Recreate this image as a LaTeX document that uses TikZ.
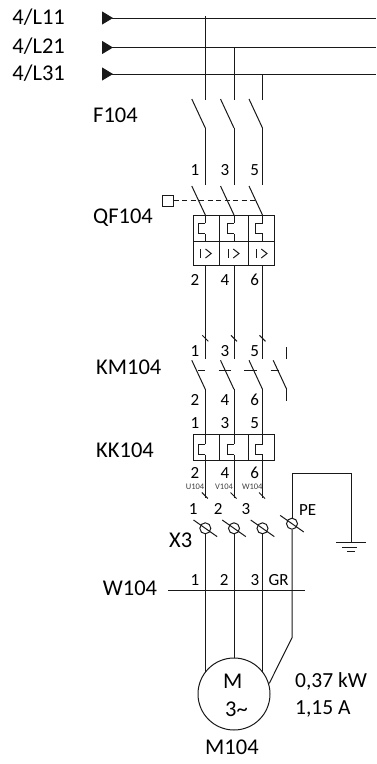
\documentclass[tikz,border=0pt]{standalone}
\usepackage{fontspec}
\setmainfont{Carlito}
\usetikzlibrary{arrows.meta}
\tikzset{
     wire/.style = { line width=1pt, color=black!90 },
      bus/.style = { wire, {Triangle[reversed,length=11pt,width=13pt]}-, >=Triangle },
    title/.style = { inner sep=0pt, anchor=west, font=\fontsize{22.5}{22.5}\selectfont },
     data/.style = { inner sep=0pt, anchor=west, font=\fontsize{21.5}{21.5}\selectfont },
      num/.style = { inner sep=0pt, font=\fontsize{17}{17}\selectfont },
     tiny/.style = { inner sep=0pt, font=\fontsize{8.5}{8.5}\selectfont, color=black!75 },
     term/.style = { wire, draw, circle, minimum size=11pt, inner sep=0pt },
    motor/.style = { wire, draw, circle, minimum size=72pt, inner sep=0pt },
}
\tikzset{
  blade/.pic={
    \draw [wire] (-13.5,-29) -- (0,0);
  },
  thermal/.pic={
    \draw [wire] (0,0) -- (-7,0) -- (-7,10.5) -- (0,10.5);
  },
  slash/.pic={
    \draw [wire] (-11.8,-8.3) -- (11.8,8.3);
  },
  tick/.pic={
    \draw [wire] (-3,-3) -- (3,3);
  },
}

\begin{document}
\begin{tikzpicture}[x=1pt,y=-1pt]
  \useasboundingbox (0,0) rectangle (376,764);

  % feeders
  \foreach \n/\y in {1/18,2/47.5,3/74} {
    \coordinate (bs\n) at (102,\y);
    \coordinate (be\n) at (376,\y);
    \draw [bus] (bs\n) -- (be\n);
  }
  \node[title] (l1) at (12.3,17.5) {4/L11};
  \node[title] (l2) at (12.3,46.5) {4/L21};
  \node[title] (l3) at (12.3,73.5) {4/L31};

  \node[title] (f) at (93,115.5) {F104};
  \node[title] (qf) at (93,217.5) {QF104};
  \node[title] (km) at (96,367.5) {KM104};
  \node[title] (kk) at (96,450) {KK104};
  \node[title] (x) at (169,540) {X3};
  \node[title] (w) at (102.7,588) {W104};

  % the three phases
  \foreach \i/\x/\ytop/\lx/\f/\t/\e/\tx/\cx/\ux/\u in {1/205.3/16/195/1/2/1/193.3/195/195/U104,2/234/47.5/225/3/4/2/218.3/224.3/224/V104,3/262.5/74/254.7/5/6/3/246/255/252.3/W104} {
    \coordinate (top\i) at (\x,\ytop);
    \coordinate (fa\i) at (\x,100);
    \coordinate (fb\i) at (\x,128);
    \coordinate (fc\i) at (\x,185);
    \coordinate (qa\i) at (\x,215);
    \coordinate (qb\i) at (\x,223.3);
    \coordinate (qc\i) at (\x,234);
    \coordinate (qd\i) at (\x,241.7);
    \coordinate (qe\i) at (\x,265);
    \coordinate (ka\i) at (\x,359.3);
    \coordinate (kb\i) at (\x,389.3);
    \coordinate (kc\i) at (\x,444);
    \coordinate (kd\i) at (\x,454.5);
    \coordinate (ke\i) at (\x,498.3);
    \node[term] (t\i) at (\x,528.3) {};
    \draw [wire] (top\i) -- (fa\i);
    \draw [wire] (fb\i) -- (fc\i);
    \draw [wire] (qa\i) -- (qb\i);
    \draw [wire] (qc\i) -- (qd\i);
    \draw [wire] (qe\i) -- (ka\i);
    \draw [wire] (kb\i) -- (kc\i);
    \draw [wire] (kd\i) -- (ke\i);
    \pic at (fb\i) {blade};
    \pic at (qa\i) {blade};
    \pic at (kb\i) {blade};
    \pic at (qb\i) {thermal};
    \pic at (kc\i) {thermal};
    \pic at (\x,338.3) {tick};
    \pic at (\x-0.5,495.5) {tick};
    \pic at (t\i) {slash};
    \node[num] (fn\i) at (\lx,170) {\f};
    \node[num] (qn\i) at (\lx,280) {\t};
    \node[num] (kn\i) at (\lx,351.5) {\f};
    \node[num] (ko\i) at (\lx,400) {\t};
    \node[num] (kp\i) at (\lx,423.3) {\f};
    \node[num] (kq\i) at (\lx,472.7) {\t};
    \node[tiny] (u\i) at (\ux,486.7) {\u};
    \node[num] (tn\i) at (\tx,509) {\e};
    \node[num] (wn\i) at (\cx,580) {\e};
  }

  % overload and thermal blocks
  \foreach \xa/\xb in {193.3/219.3,219.3/248,248/274} {
    \draw [wire] (\xa,215.3) rectangle (\xb,241.7);
    \draw [wire] (\xa,241.7) rectangle (\xb,265);
    \draw [wire] (\xa,434) rectangle (\xb,460.7);
  }
  \foreach \x in {200.7,228.5,256.5} {
    \draw [wire] (\x,249) -- (\x,258);
    \draw [wire] (\x+4.8,249) -- (\x+10.5,253.5) -- (\x+4.8,258);
  }
  \draw [wire, dashed, dash pattern=on 5pt off 3.5pt] (173.7,200.7) -- (257,200.7);
  \draw [wire] (162.7,195.3) rectangle (173.7,206);

  % contactor bars and auxiliary
  \draw [wire] (197.7,370.7) -- (205.3,370.7);
  \draw [wire] (218.7,370.7) -- (231,370.7);
  \draw [wire] (244.3,370.7) -- (256.7,370.7);
  \draw [wire] (270.7,370.7) -- (279,370.7);
  \draw [wire] (286.7,347.3) -- (286.7,359.3);
  \draw [wire] (286.7,389.3) -- (286.7,400.7);
  \pic at (286.7,389.3) {blade};

  % earth
  \node[term] (tpe) at (292,523.7) {};
  \pic at (tpe) {slash};
  \node[num] (pe) at (307.7,510) {PE};
  \coordinate (ec1) at (292,473.3);
  \coordinate (ec2) at (351,473.3);
  \coordinate (gnd) at (351,542.7);
  \draw [wire] (tpe) -- (ec1) -- (ec2) -- (gnd);
  \draw [wire] (336,542.7) -- (366,542.7);
  \draw [wire] (342,547.3) -- (357.3,547.3);
  \draw [wire] (347.3,551.7) -- (354.7,551.7);

  % cable
  \coordinate (ca) at (168,590);
  \coordinate (cb) at (304.7,590);
  \draw [wire] (ca) -- (cb);
  \node[num] (gr) at (278.7,580) {GR};

  % motor
  \node[motor] (mot) at (234,694) {};
  \node[title, anchor=center] (mm) at (232.8,681.7) {M};
  \node[title] (m3) at (225,709) {3\char"007E};
  \node[title] (mn) at (205,747) {M104};
  \node[data] (kw) at (295,681.7) {0,37 kW};
  \node[data] (amp) at (295,709.3) {1,15 A};
  \draw [wire] (t1) -- (205.3,671.7);
  \draw [wire] (t2) -- (mot.north);
  \draw [wire] (t3) -- (262.5,671.7);
  \coordinate (pk) at (292,637.7);
  \draw [wire] (tpe) -- (pk) -- (269.3,683.3);
\end{tikzpicture}
\end{document}
